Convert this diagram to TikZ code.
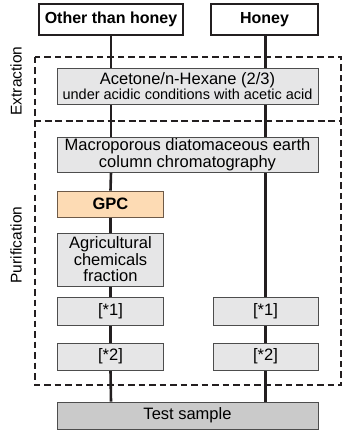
\documentclass[tikz,border=0pt]{standalone}
\usepackage{fontspec}
\setmainfont{Liberation Sans}
\pgfdeclarelayer{bg}
\pgfsetlayers{bg,main}
\definecolor{boxfill}{HTML}{E6E6E7}
\definecolor{boxline}{HTML}{4D4D4D}
\definecolor{testfill}{HTML}{CACACA}
\definecolor{gpcfill}{HTML}{FDDBB4}
\definecolor{gpcline}{HTML}{6E5A48}
\definecolor{ink}{HTML}{231F20}
\tikzset{
  headbox/.style={draw=ink, line width=2pt, fill=white, inner sep=0pt, align=center,
    font=\fontsize{16}{17}\selectfont\bfseries},
  graybox/.style={draw=boxline, line width=0.9pt, fill=boxfill, inner sep=0pt, align=center,
    font=\fontsize{16.5}{16.5}\selectfont},
  gpcbox/.style={graybox, draw=gpcline, fill=gpcfill, font=\fontsize{16.5}{17}\selectfont\bfseries},
  testbox/.style={graybox, fill=testfill},
  flow/.style={draw=ink, line width=2.6pt},
  stagebox/.style={draw=ink, line width=2.2pt, dash pattern=on 6.5pt off 4pt},
  stagelabel/.style={rotate=90, font=\fontsize{15.5}{16}\selectfont, inner sep=0pt}
}
\begin{document}
\begin{tikzpicture}[x=1pt,y=-1pt]
\useasboundingbox (0,0) rectangle (343,430);
% header boxes
\node[headbox, minimum width=144, minimum height=31] (other) at (111,19.5) {Other than honey};
\node[headbox, minimum width=107, minimum height=31] (honey) at (264.5,19.5) {Honey};
% process boxes
\node[graybox, minimum width=261, minimum height=36] (acet) at (187.5,86)
  {Acetone/n-Hexane (2/3)\\[-1.5pt]{\fontsize{14.5}{15}\selectfont under acidic conditions with acetic acid}};
\node[graybox, minimum width=261, minimum height=35] (macro) at (187.5,154.5)
  {Macroporous diatomaceous earth\\column chromatography};
\node[gpcbox, minimum width=106, minimum height=26] (gpc) at (110.5,204) {GPC};
\node[graybox, minimum width=106, minimum height=53] (agri) at (110.5,259.5)
  {Agricultural\\chemicals\\fraction};
\node[graybox, minimum width=106, minimum height=28] (l1) at (110.5,311) {[*1]};
\node[graybox, minimum width=105, minimum height=28] (r1) at (265.5,311) {[*1]};
\node[graybox, minimum width=106, minimum height=27] (l2) at (110.5,356.5) {[*2]};
\node[graybox, minimum width=105, minimum height=27] (r2) at (265.5,356.5) {[*2]};
\node[testbox, minimum width=261, minimum height=27] (test) at (187.5,415.5) {Test sample};
\coordinate (lx) at (111,35);
\coordinate (rx) at (265.5,35);
% stage frames
\draw[stagebox] (35,57) rectangle (341,121);
\draw[stagebox] (35,121) rectangle (341,385);
\node[stagelabel] (ext) at (16,81) {Extraction};
\node[stagelabel] (pur) at (16,245) {Purification};
% flow lines, behind the boxes
\begin{pgfonlayer}{bg}
  \draw[flow] (other.south) -- (lx |- acet.north);
  \draw[flow] (lx |- acet.south) -- (lx |- macro.north);
  \draw[flow] (lx |- macro.south) -- (gpc.north);
  \draw[flow] (gpc.south) -- (agri.north);
  \draw[flow] (agri.south) -- (l1.north);
  \draw[flow] (l1.south) -- (l2.north);
  \draw[flow] (l2.south) -- (lx |- test.north);
  \draw[flow] (rx) -- (rx |- acet.north);
  \draw[flow] (rx |- acet.south) -- (rx |- macro.north);
  \draw[flow] (rx |- macro.south) -- (r1.north);
  \draw[flow] (r1.south) -- (r2.north);
  \draw[flow] (r2.south) -- (rx |- test.north);
\end{pgfonlayer}
\end{tikzpicture}
\end{document}
